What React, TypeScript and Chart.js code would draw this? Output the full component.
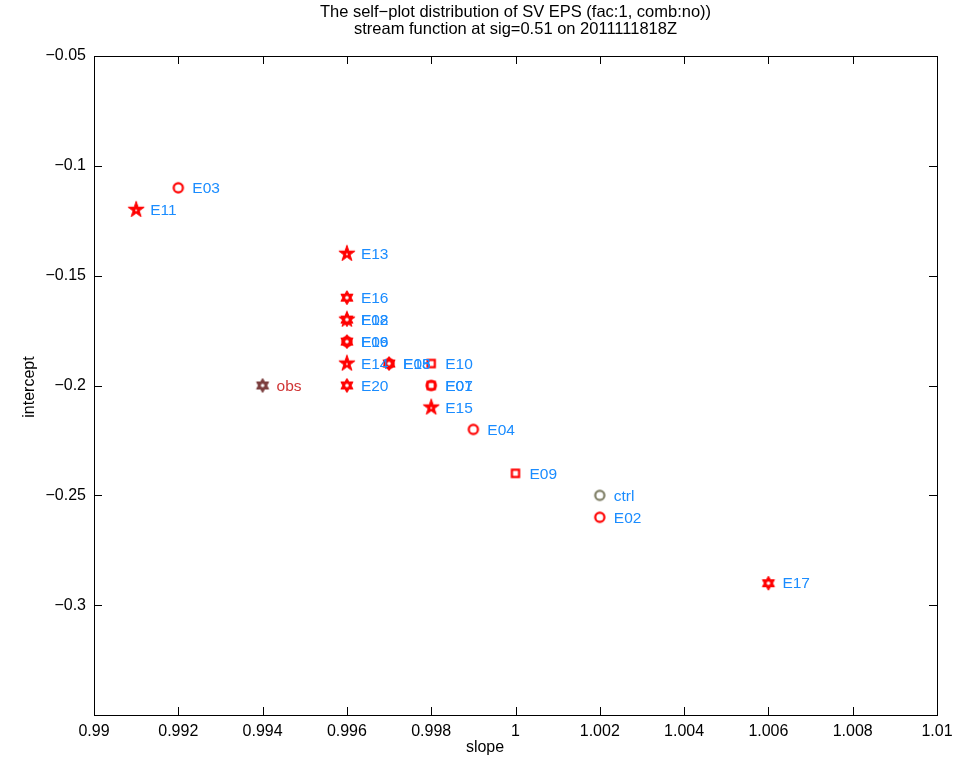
import React, { useEffect, useRef } from "react";
import { Chart, registerables } from "chart.js";
Chart.register(...registerables);

const titleLines = [
  "The self\u2212plot distribution of SV EPS (fac:1, comb:no))",
  "stream function at sig=0.51 on 2011111818Z",
];
const xAxisTitle = "slope";
const yAxisTitle = "intercept";

const names = ["obs", "ctrl", "E01", "E02", "E03", "E04", "E05", "E06", "E07", "E08", "E09", "E10", "E11", "E12", "E13", "E14", "E15", "E16", "E17", "E18", "E19", "E20"];
const slopes = [0.994, 1.002, 0.998, 1.002, 0.992, 0.999, 0.997, 0.996, 0.998, 0.996, 1.0, 0.998, 0.991, 0.996, 0.996, 0.996, 0.998, 0.996, 1.006, 0.997, 0.996, 0.996];
const intercepts = [-0.2, -0.25, -0.2, -0.26, -0.11, -0.22, -0.19, -0.18, -0.2, -0.17, -0.24, -0.19, -0.12, -0.17, -0.14, -0.19, -0.21, -0.16, -0.29, -0.19, -0.18, -0.2];
const markers = ["hexagram", "circle", "circle", "circle", "circle", "circle", "circle", "hexagram", "square", "pentagram", "square", "square", "pentagram", "hexagram", "pentagram", "pentagram", "pentagram", "hexagram", "hexagram", "hexagram", "circle", "hexagram"];

const xTicks = [0.99, 0.992, 0.994, 0.996, 0.998, 1.0, 1.002, 1.004, 1.006, 1.008, 1.01];
const xTickLabels = ["0.99", "0.992", "0.994", "0.996", "0.998", "1", "1.002", "1.004", "1.006", "1.008", "1.01"];
const yTicks = [-0.35, -0.3, -0.25, -0.2, -0.15, -0.1, -0.05];
const yTickLabels = ["", "\u22120.3", "\u22120.25", "\u22120.2", "\u22120.15", "\u22120.1", "\u22120.05"];

const FONT = '"Liberation Sans", Arial, Helvetica, sans-serif';

function markerColor(name: string) {
  if (name === "obs") return "#7a3d3d";
  if (name === "ctrl") return "#7f7f66";
  return "#ff0000";
}
function labelColor(name: string) {
  if (name === "obs") return "#d03535";
  return "#1a8cff";
}

function starPath(g: CanvasRenderingContext2D, n: number, R: number, r: number, cx: number, cy: number) {
  for (let k = 0; k < 2 * n; k++) {
    const a = -Math.PI / 2 + (k * Math.PI) / n;
    const rr = k % 2 === 0 ? R : r;
    const px = cx + rr * Math.cos(a), py = cy + rr * Math.sin(a);
    if (k === 0) g.moveTo(px, py); else g.lineTo(px, py);
  }
  g.closePath();
}

function makeMarker(shape: string, color: string) {
  const c = document.createElement("canvas");
  c.width = 24;
  c.height = 24;
  const g = c.getContext("2d")!;
  g.strokeStyle = color;
  g.fillStyle = color;
  g.lineWidth = 2.2;
  g.lineJoin = "miter";
  const cx = 12, cy = 12;
  g.beginPath();
  if (shape === "circle") {
    g.arc(cx, cy, 4.6, 0, Math.PI * 2);
    g.stroke();
  } else if (shape === "square") {
    g.rect(cx - 3.6, cy - 3.6, 7.2, 7.2);
    g.stroke();
  } else if (shape === "pentagram") {
    starPath(g, 5, 8.5, 8.5 * 0.382, cx, cy);
    g.fill();
    g.lineWidth = 1;
    g.stroke();
    g.beginPath();
    g.fillStyle = "#fff";
    g.arc(cx, cy + 0.5, 0.9, 0, Math.PI * 2);
    g.fill();
  } else if (shape === "hexagram") {
    starPath(g, 6, 7, 7 / Math.sqrt(3), cx, cy);
    g.fill();
    g.lineWidth = 1;
    g.stroke();
    g.beginPath();
    g.fillStyle = "#fff";
    g.arc(cx, cy, 1.8, 0, Math.PI * 2);
    g.fill();
  }
  return c;
}

const decor = {
  id: "decor",
  beforeDatasetsDraw(chart: any) {
    const { ctx, chartArea: a, scales } = chart;
    const x = scales.x, y = scales.y;
    ctx.save();
    ctx.strokeStyle = "#000";
    ctx.lineWidth = 1;
    ctx.strokeRect(a.left + 0.5, a.top + 0.5, a.right - a.left, a.bottom - a.top);
    ctx.beginPath();
    xTicks.forEach((v) => {
      const p = Math.round(x.getPixelForValue(v)) + 0.5;
      ctx.moveTo(p, a.bottom);
      ctx.lineTo(p, a.bottom - 8);
      ctx.moveTo(p, a.top);
      ctx.lineTo(p, a.top + 8);
    });
    yTicks.forEach((v) => {
      const p = Math.round(y.getPixelForValue(v)) + 0.5;
      ctx.moveTo(a.left, p);
      ctx.lineTo(a.left + 8, p);
      ctx.moveTo(a.right, p);
      ctx.lineTo(a.right - 8, p);
    });
    ctx.stroke();

    ctx.fillStyle = "#000";
    ctx.font = "16.5px " + FONT;
    ctx.textAlign = "center";
    ctx.textBaseline = "middle";
    const cxm = (a.left + a.right) / 2;
    ctx.fillText(titleLines[0], cxm, 12);
    ctx.fillText(titleLines[1], cxm, 29);

    ctx.font = "16px " + FONT;
    ctx.fillText(xAxisTitle, 485, 748);
    ctx.save();
    ctx.translate(30, 387);
    ctx.rotate(-Math.PI / 2);
    ctx.fillText(yAxisTitle, 0, 0);
    ctx.restore();
    ctx.restore();
  },
  afterDatasetsDraw(chart: any) {
    const { ctx, scales } = chart;
    ctx.save();
    ctx.font = "15.5px " + FONT;
    ctx.textAlign = "left";
    ctx.textBaseline = "middle";
    names.forEach((n, i) => {
      const px = scales.x.getPixelForValue(slopes[i]);
      const py = scales.y.getPixelForValue(intercepts[i]);
      ctx.fillStyle = labelColor(n);
      ctx.fillText(n, px + 14, py + 1);
    });
    ctx.restore();
  },
};

export default function App() {
  const ref = useRef<HTMLCanvasElement>(null);
  useEffect(() => {
    document.body.style.margin = "0";
    const styles = markers.map((m, i) => makeMarker(m, markerColor(names[i])));
    const chart = new Chart(ref.current!, {
      type: "scatter",
      data: {
        datasets: [
          {
            data: names.map((_, i) => ({ x: slopes[i], y: intercepts[i] })),
            pointStyle: styles as any,
            pointRadius: 6,
          },
        ],
      },
      options: {
        animation: false,
        responsive: false,
        events: [],
        layout: { padding: { top: 56, right: 32, left: 0, bottom: 0 } },
        plugins: { legend: { display: false }, tooltip: { enabled: false }, title: { display: false } },
        scales: {
          x: {
            type: "linear",
            min: 0.99,
            max: 1.01,
            grid: { display: false, drawTicks: false },
            border: { display: false },
            afterBuildTicks: (s: any) => { s.ticks = xTicks.map((v) => ({ value: v })); },
            afterFit: (s: any) => { s.height = 44; },
            ticks: {
              padding: 7,
              color: "#000",
              font: { size: 16, family: FONT },
              maxRotation: 0,
              autoSkip: false,
              callback: (_v: any, i: number) => xTickLabels[i],
            },
          },
          y: {
            type: "linear",
            min: -0.35,
            max: -0.05,
            grid: { display: false, drawTicks: false },
            border: { display: false },
            afterBuildTicks: (s: any) => { s.ticks = yTicks.map((v) => ({ value: v })); },
            afterFit: (s: any) => { s.width = 94; },
            ticks: {
              padding: 8,
              color: "#000",
              font: { size: 16, family: FONT },
              autoSkip: false,
              callback: (_v: any, i: number) => yTickLabels[i],
            },
          },
        },
      },
      plugins: [decor],
    });
    return () => chart.destroy();
  }, []);
  return (
    <div style={{ position: "absolute", left: 0, top: 0, width: 969, height: 759, background: "#fff" }}>
      <canvas ref={ref} width={969} height={759} style={{ width: 969, height: 759, display: "block" }} />
    </div>
  );
}
